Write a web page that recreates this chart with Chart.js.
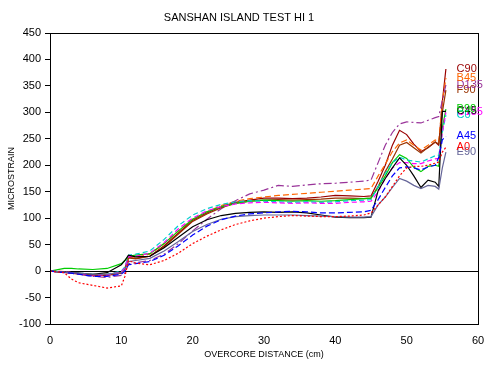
<!DOCTYPE html>
<html>
<head>
<meta charset="utf-8">
<script src="https://cdn.jsdelivr.net/npm/chart.js@4.4.0/dist/chart.umd.min.js"></script>
<style>
html,body{margin:0;padding:0;background:#fff;}
#wrap{width:497px;height:367px;}
</style>
</head>
<body>
<div id="wrap"><canvas id="c" width="497" height="367"></canvas></div>
<script>
const distance = [0,2,3,4,6,8,10,10.5,11,12,14,16,18,20,22,24,26,28,30,32,34,36,38,40,42,44,45,46,47,48,49,50,51,52,53,54,54.5,55,55.5];

const A0   = [0,-3,-15,-22,-27,-32,-28,-10,20,15,12,20,34,52,66,78,88,95,100,103,105,104,103,103,104,106,110,125,140,160,180,195,198,198,200,204,206,225,234];
const A45  = [0,-3,-4,-6,-10,-10,-6,0,12,14,18,30,48,68,85,97,104,108,110,112,113,112,110,110,111,112,115,135,158,180,195,197,195,191,197,200,215,248,255];
const E90  = [0,-2,-3,-4,-6,-6,-3,2,18,20,24,38,56,75,88,98,103,105,106,106,106,105,104,103,102,102,103,125,140,158,175,170,162,156,162,160,155,195,225];
const C45  = [0,-2,-3,-4,-6,-3,12,20,30,27,28,44,64,84,97,105,109,111,112,111,112,110,106,102,101,101,102,152,175,195,214,200,180,158,172,168,160,302,302];
const C135 = [0,-1,-3,-5,-7,-7,-2,6,27,28,34,54,80,100,114,122,127,129,130,129,128,129,128,128,130,131,132,150,175,195,205,205,203,203,208,212,213,262,300];
const C0   = [0,-2,-3,-4,-6,-6,0,8,30,32,38,60,86,106,118,126,131,133,132,131,130,131,130,131,133,134,135,160,185,205,215,210,208,206,212,218,219,262,295];
const B90  = [0,5,5,4,3,5,14,20,28,30,33,52,76,98,112,122,128,132,134,133,132,133,132,133,135,137,138,158,180,205,220,213,196,188,198,200,198,270,306];
const F90  = [0,-2,-4,-6,-8,-7,-3,5,25,23,28,46,70,94,108,120,128,132,134,135,134,135,136,138,138,137,138,160,188,212,238,243,233,223,234,244,240,300,342];
const D135 = [0,-3,-4,-6,-10,-12,-8,-4,14,16,20,32,52,76,98,118,133,146,153,162,160,163,165,166,168,170,172,205,238,262,278,282,281,280,285,290,292,322,352];
const B45  = [0,-1,-3,-5,-7,-6,-2,6,28,26,32,52,76,98,112,124,132,137,140,143,145,147,149,151,153,155,156,180,202,226,242,248,238,229,238,248,244,320,365];
const C90  = [0,-2,-3,-5,-8,-8,-4,5,26,24,28,48,72,96,110,122,130,134,138,138,137,138,140,143,142,141,142,170,200,238,266,258,240,226,233,244,238,320,382];

const yTicks = [-100,-50,0,50,100,150,200,250,300,350,400,450];
const xTicks = [0,10,20,30,40,50,60];

const seriesDefs = [
  {label:'A0',   data:A0,   color:'#FF0000', dash:[2,2]},
  {label:'A45',  data:A45,  color:'#0000FF', dash:[6,3]},
  {label:'E90',  data:E90,  color:'#666699', dash:[]},
  {label:'C45',  data:C45,  color:'#000000', dash:[]},
  {label:'C135', data:C135, color:'#FF00FF', dash:[5,3]},
  {label:'C0',   data:C0,   color:'#00CCCC', dash:[5,3]},
  {label:'B90',  data:B90,  color:'#00CC00', dash:[]},
  {label:'F90',  data:F90,  color:'#993300', dash:[]},
  {label:'D135', data:D135, color:'#993399', dash:[8,3,2,3]},
  {label:'B45',  data:B45,  color:'#FF6600', dash:[6,3]},
  {label:'C90',  data:C90,  color:'#990000', dash:[]}
];

const datasets = seriesDefs.map(s => ({
  label: s.label,
  data: distance.map((x,i) => ({x:x, y:s.data[i]})),
  borderColor: s.color,
  backgroundColor: s.color,
  borderDash: s.dash,
  borderWidth: 1.2,
  pointRadius: 0,
  tension: 0,
  fill: false
}));

const endLabels = {
  id:'endLabels',
  afterDatasetsDraw(chart){
    const ctx = chart.ctx;
    const xs = chart.scales.x, ys = chart.scales.y;
    const ca = chart.chartArea;
    ctx.save();
    ctx.strokeStyle = '#000';
    ctx.lineWidth = 1;
    ctx.strokeRect(ca.left+0.5, ca.top+0.5, ca.right-ca.left, ca.bottom-ca.top);
    ctx.font = '11px "Liberation Sans", Arial, sans-serif';
    ctx.textAlign = 'left';
    ctx.textBaseline = 'middle';
    const order = ['C135','C0','C45','B90','A45','E90','A0','F90','D135','B45','C90'];
    order.forEach(name => {
      const s = seriesDefs.find(d => d.label === name);
      const v = s.data[s.data.length-1];
      ctx.fillStyle = s.color;
      ctx.fillText(s.label, xs.getPixelForValue(57), ys.getPixelForValue(v));
    });
    ctx.restore();
  }
};

new Chart(document.getElementById('c'), {
  type:'line',
  data:{datasets},
  options:{
    responsive:false,
    animation:false,
    layout:{padding:{left:0,right:19,top:0,bottom:0}},
    plugins:{
      legend:{display:false},
      tooltip:{enabled:false},
      title:{display:true,text:'SANSHAN ISLAND TEST HI 1',color:'#000',
        font:{family:'"Liberation Sans", Arial, sans-serif',size:11,weight:'normal'},
        padding:{top:11.5,bottom:8.3}}
    },
    scales:{
      x:{
        type:'linear', min:0, max:60,
        afterBuildTicks: sc => { sc.ticks = xTicks.map(v => ({value:v})); },
        afterFit: sc => { sc.height = 43; },
        grid:{display:false},
        border:{display:true,color:'#000',width:1},
        ticks:{color:'#000',padding:2,font:{family:'"Liberation Sans", Arial, sans-serif',size:11},maxRotation:0},
        title:{display:true,text:'OVERCORE DISTANCE (cm)',color:'#000',
          font:{family:'"Liberation Sans", Arial, sans-serif',size:9},padding:{top:0,bottom:7}}
      },
      y:{
        type:'linear', min:-100, max:450,
        afterBuildTicks: sc => { sc.ticks = yTicks.map(v => ({value:v})); },
        afterFit: sc => { sc.width = 50; },
        grid:{display:true,drawOnChartArea:true,drawTicks:true,tickLength:5,
          color: c => (c.tick && c.tick.value === 0) ? '#000' : 'rgba(0,0,0,0)',
          tickColor:'#000', lineWidth:1},
        border:{display:true,color:'#000',width:1},
        ticks:{color:'#000',padding:4,font:{family:'"Liberation Sans", Arial, sans-serif',size:11}},
        title:{display:true,text:'MICROSTRAIN',color:'#000',
          font:{family:'"Liberation Sans", Arial, sans-serif',size:9},padding:{top:6,bottom:0}}
      }
    }
  },
  plugins:[endLabels]
});
</script>
</body>
</html>
